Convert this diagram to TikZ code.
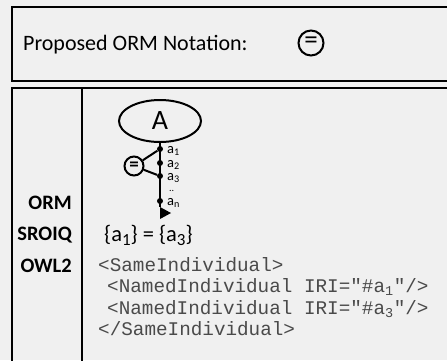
\documentclass[tikz,border=0pt]{standalone}
\usepackage{fontspec}
\setmainfont{Carlito}
\setmonofont{Liberation Mono}
\usetikzlibrary{shapes.geometric}
\definecolor{bg}{HTML}{F0F0F0}
\definecolor{codegray}{HTML}{4A4A4A}
\tikzset{
  boxline/.style={line width=2.4pt},
  lbl/.style={inner sep=0pt,anchor=base east,font=\fontsize{20.5}{21}\selectfont\bfseries},
  xml/.style={inner sep=0pt,anchor=base west,text=codegray,font=\fontsize{19.3}{20}\selectfont\ttfamily},
  dot/.style={circle,fill,inner sep=0pt,minimum size=6pt},
  idx/.style={inner sep=0pt,anchor=west,font=\fontsize{14.5}{14.5}\selectfont},
  eqc/.style={circle,draw,line width=2pt,inner sep=0pt}
}
\begin{document}
\begin{tikzpicture}[x=1pt,y=-1pt]
\fill[bg](0,0)rectangle(447,360);
\clip(0,0)rectangle(447,360);
\draw[boxline](12,7)rectangle(460,81);
\draw[boxline](12,88)rectangle(460,372) (82,88)--(82,372);
\node[inner sep=0pt,anchor=base west,font=\fontsize{22}{22}\selectfont](title) at (23,50){Proposed ORM Notation:};
\node[eqc,minimum size=25pt,font=\fontsize{27}{27}\selectfont](eqtop) at (311,43){=};
\foreach \n/\y in {ORM/209,SROIQ/240,OWL2/272}{\node[lbl](\n) at (72,\y){\n};}
% ORM diagram
\node[ellipse,draw,line width=2pt,minimum width=82pt,minimum height=42pt,font=\fontsize{28}{28}\selectfont](A) at (160,121){A};
\coordinate(end) at (160,207);
\draw[line width=2pt](A.south)--(end);
\fill(end)--++(11,6)--++(-11,6)--cycle;
\foreach \y/\s in {149/1,163/2,176/3,201/n}{\node[dot](a\s) at (160,\y){}; \node[idx](l\s) at (167,\y+2){a\textsubscript{\s}};}
\node[idx,font=\fontsize{10}{10}\selectfont](ldots) at (169,191){..};
\node[eqc,minimum size=19pt,font=\fontsize{19}{19}\selectfont\bfseries](eq) at (134,166){=};
\draw[line width=2pt](eq)--(a1) (eq)--(a3);
% SROIQ and OWL2
\node[inner sep=0pt,anchor=base west,font=\fontsize{22.5}{22.5}\selectfont](dl) at (104,241){\{a{\fontsize{17}{17}\selectfont\raisebox{-0.25em}{1}}\} = \{a{\fontsize{17}{17}\selectfont\raisebox{-0.25em}{3}}\}};
\node[xml](x1) at (98,271){<SameIndividual>};
\node[xml](x2) at (107,292.5){<NamedIndividual IRI="\#a\textsubscript{1}"/>};
\node[xml](x3) at (107,314){<NamedIndividual IRI="\#a\textsubscript{3}"/>};
\node[xml](x4) at (98,335.5){</SameIndividual>};
\end{tikzpicture}
\end{document}
